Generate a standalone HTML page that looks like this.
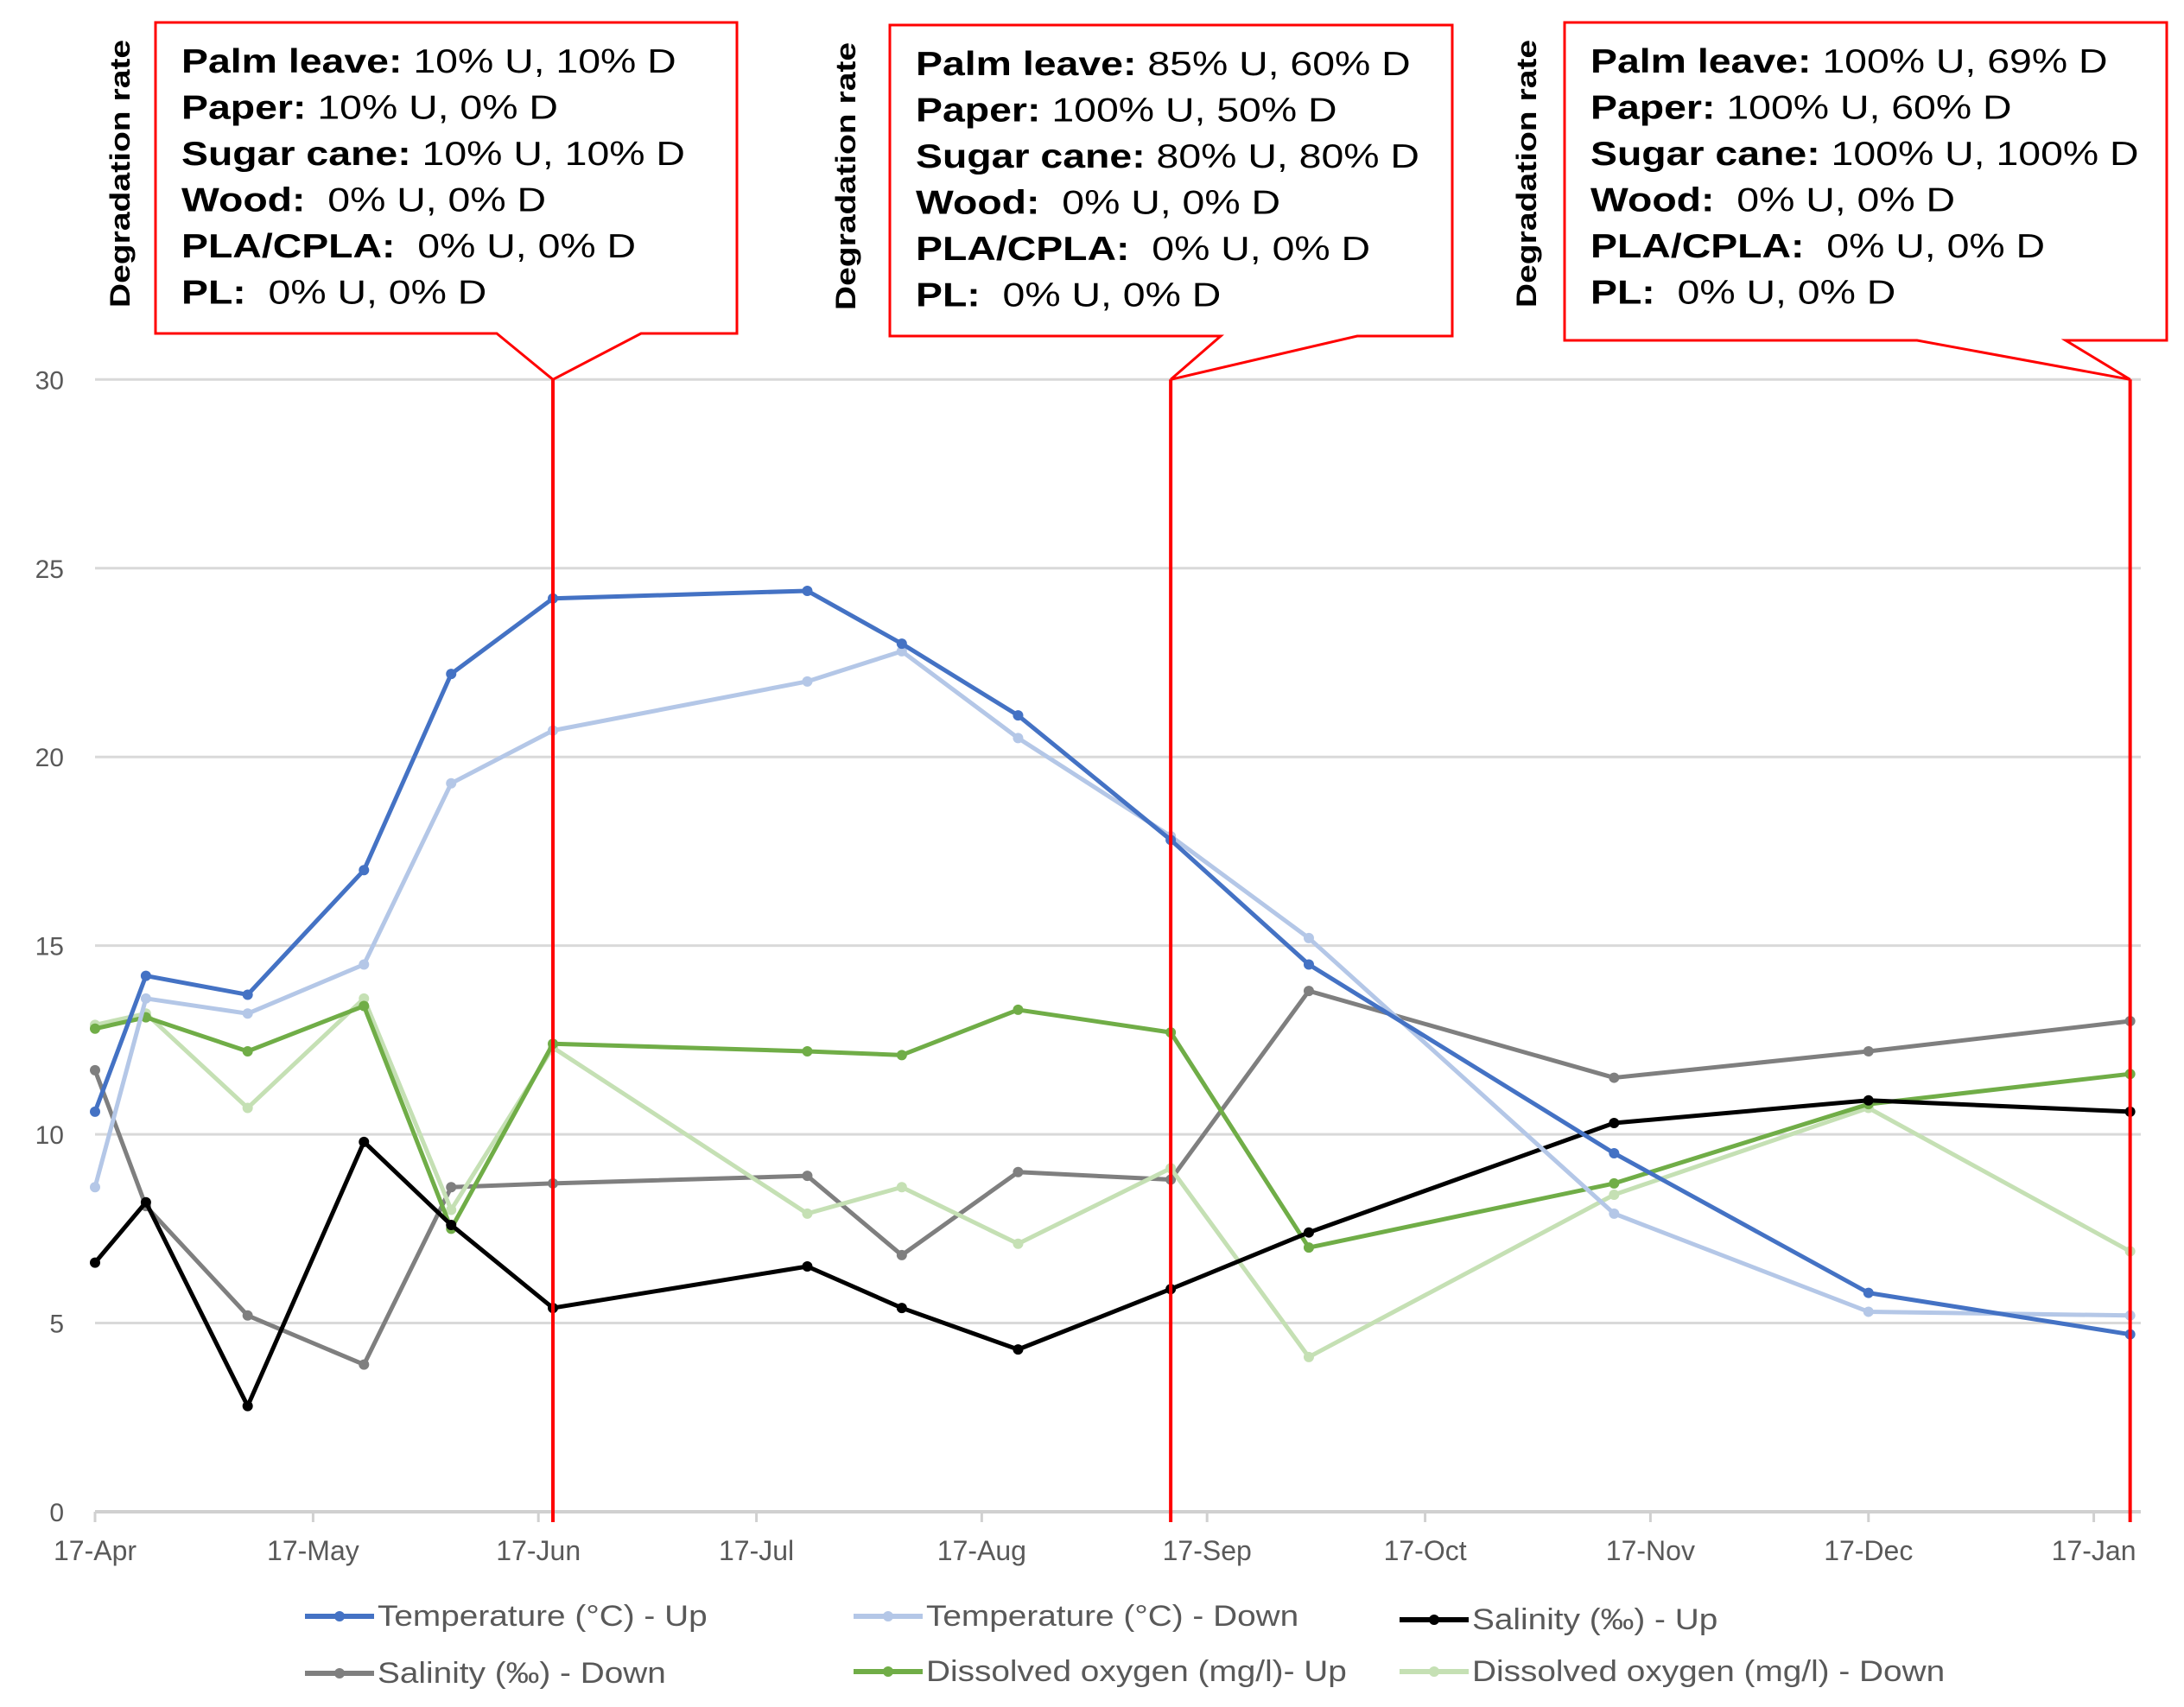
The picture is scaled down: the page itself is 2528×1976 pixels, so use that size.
<!DOCTYPE html>
<html><head><meta charset="utf-8"><style>
html,body{margin:0;padding:0;background:#fff}
svg{display:block}
text{font-family:"Liberation Sans",Arial,sans-serif}
</style></head><body>
<svg id="chart" width="2528" height="1976" viewBox="0 0 2528 1976" xmlns="http://www.w3.org/2000/svg">
<g id="grid"></g>
<g id="yticks"></g>
<g id="xticks"></g>
<g id="series"></g>
<g id="annot"></g>
<g id="legend"></g>
</svg>
<script>
const days = [0, 7, 21, 37, 49, 63, 98, 111, 127, 148, 167, 209, 244, 280];
const tempUp = [10.6, 14.2, 13.7, 17.0, 22.2, 24.2, 24.4, 23.0, 21.1, 17.8, 14.5, 9.5, 5.8, 4.7];
const tempDown = [8.6, 13.6, 13.2, 14.5, 19.3, 20.7, 22.0, 22.8, 20.5, 17.9, 15.2, 7.9, 5.3, 5.2];
const salUp = [6.6, 8.2, 2.8, 9.8, 7.6, 5.4, 6.5, 5.4, 4.3, 5.9, 7.4, 10.3, 10.9, 10.6];
const salDown = [11.7, 8.1, 5.2, 3.9, 8.6, 8.7, 8.9, 6.8, 9.0, 8.8, 13.8, 11.5, 12.2, 13.0];
const doUp = [12.8, 13.1, 12.2, 13.4, 7.5, 12.4, 12.2, 12.1, 13.3, 12.7, 7.0, 8.7, 10.8, 11.6];
const doDown = [12.9, 13.2, 10.7, 13.6, 8.0, 12.3, 7.9, 8.6, 7.1, 9.1, 4.1, 8.4, 10.7, 6.9];
const yTicks = [0, 5, 10, 15, 20, 25, 30];
const xTickLabels = ["17-Apr","17-May","17-Jun","17-Jul","17-Aug","17-Sep","17-Oct","17-Nov","17-Dec","17-Jan"];
const xTickDays = [0, 30, 61, 91, 122, 153, 183, 214, 244, 275];
const markerDays = [63, 148, 280];
const seriesNames = ["Temperature (°C) - Up","Temperature (°C) - Down","Salinity (‰) - Up","Salinity (‰) - Down","Dissolved oxygen (mg/l)- Up","Dissolved oxygen (mg/l) - Down"];

const NS = "http://www.w3.org/2000/svg";
const X0 = 110, XPD = 8.413, Y0 = 1750, YPU = 43.69, XEND = 2478;
function xs(d){ return X0 + d * XPD; }
function ys(v){ return Y0 - v * YPU; }
function mk(tag, attrs, parent){ const e = document.createElementNS(NS, tag); for (const k in attrs) e.setAttribute(k, attrs[k]); parent.appendChild(e); return e; }
function stretch(t, f){ const L = t.getComputedTextLength(); if (L > 0) { t.setAttribute('textLength', L * f); t.setAttribute('lengthAdjust', 'spacingAndGlyphs'); } }

const grid = document.getElementById('grid');
const yt = document.getElementById('yticks');
yTicks.forEach(v => {
  const l = mk('line', {x1: X0, x2: XEND, y1: ys(v), y2: ys(v), stroke: v === 0 ? '#d0d0d0' : '#d9d9d9', 'stroke-width': v === 0 ? 4 : 3}, grid);
  
  
  const t = mk('text', {x: 74, y: ys(v) + 11, 'text-anchor': 'end', 'font-size': 30, fill: '#595959'}, yt);
  t.textContent = v;
  
  
});
const xt = document.getElementById('xticks');
xTickDays.forEach((d, i) => {
  const tk = mk('line', {x1: xs(d), x2: xs(d), y1: Y0, y2: Y0 + 12, stroke: '#d0d0d0', 'stroke-width': 3}, xt);
  
  
  const t = mk('text', {x: xs(d), y: 1806, 'text-anchor': 'middle', 'font-size': 32, fill: '#595959'}, xt);
  t.textContent = xTickLabels[i];
  
  
});

const colors = ['#4472c4', '#b4c7e7', '#000000', '#7f7f7f', '#70ad47', '#c5e0b4'];
const allSeries = [tempUp, tempDown, salUp, salDown, doUp, doDown];
const order = [3, 5, 4, 2, 1, 0];
const sg = document.getElementById('series');
order.forEach(si => {
  const vals = allSeries[si];
  const g = mk('g', {}, sg);
  
  
  const pts = vals.map((v, i) => xs(days[i]) + ',' + ys(v)).join(' ');
  const pl = mk('polyline', {points: pts, fill: 'none', stroke: colors[si], 'stroke-width': 5, 'stroke-linejoin': 'round'}, g);
  
  
  vals.forEach((v, i) => {
    const c = mk('circle', {cx: xs(days[i]), cy: ys(v), r: 6, fill: colors[si]}, g);
    
    
  });
});

const boxes = [
  {x: 180, y: 26, w: 673, h: 360, tip: [575, 1, 742], lbl: 150, lines: [["Palm leave:"," 10% U, 10% D"],["Paper:"," 10% U, 0% D"],["Sugar cane:"," 10% U, 10% D"],["Wood:","  0% U, 0% D"],["PLA/CPLA:","  0% U, 0% D"],["PL:","  0% U, 0% D"]]},
  {x: 1030, y: 29, w: 651, h: 360, tip: [1413, 1, 1571], lbl: 990, lines: [["Palm leave:"," 85% U, 60% D"],["Paper:"," 100% U, 50% D"],["Sugar cane:"," 80% U, 80% D"],["Wood:","  0% U, 0% D"],["PLA/CPLA:","  0% U, 0% D"],["PL:","  0% U, 0% D"]]},
  {x: 1811, y: 26, w: 697, h: 368, tip: [2219, 1, 2391], lbl: 1778, lines: [["Palm leave:"," 100% U, 69% D"],["Paper:"," 100% U, 60% D"],["Sugar cane:"," 100% U, 100% D"],["Wood:","  0% U, 0% D"],["PLA/CPLA:","  0% U, 0% D"],["PL:","  0% U, 0% D"]]}
];
const an = document.getElementById('annot');
markerDays.forEach((d, i) => {
  const b = boxes[i];
  const g = mk('g', {}, an);
  
  
  const vx = xs(d);
  const vl = mk('line', {x1: vx, x2: vx, y1: ys(30), y2: Y0 + 12, stroke: '#ff0000', 'stroke-width': 4}, g);
  
  
  const by = b.y + b.h;
  const p = mk('path', {d: `M${b.x} ${b.y} H${b.x + b.w} V${by} H${b.tip[2]} L${vx} ${ys(30)} L${b.tip[0]} ${by} H${b.x} Z`, fill: '#fff', stroke: '#ff0000', 'stroke-width': 3}, g);
  
  
  const r = mk('text', {x: 0, y: 0, 'font-size': 32, 'font-weight': 'bold', fill: '#000', 'text-anchor': 'middle', transform: `translate(${b.lbl},${b.y + 175}) rotate(-90)`}, g);
  r.textContent = 'Degradation rate';
  
  
  stretch(r, 1.22);
  b.lines.forEach((ln, j) => {
    const t = mk('text', {x: b.x + 30, y: b.y + 58 + j * 53.5, 'font-size': 39, fill: '#000'}, g);
    
    
    const s1 = mk('tspan', {'font-weight': 'bold'}, t); s1.textContent = ln[0];
    const s2 = mk('tspan', {}, t); s2.textContent = ln[1].replace(/ /g, '\u00a0');
    stretch(t, 1.19);
  });
});

const lg = document.getElementById('legend');
const legPos = [[353, 1871], [988, 1871], [1620, 1875], [353, 1937], [988, 1935], [1620, 1935]];
seriesNames.forEach((n, i) => {
  const [lx, ly] = legPos[i];
  const g = mk('g', {}, lg);
  
  
  mk('line', {x1: lx, x2: lx + 80, y1: ly, y2: ly, stroke: colors[i], 'stroke-width': 6}, g);
  mk('circle', {cx: lx + 40, cy: ly, r: 6, fill: colors[i]}, g);
  const t = mk('text', {x: lx + 84, y: ly + 11, 'font-size': 34, fill: '#595959'}, g);
  t.textContent = n;
  stretch(t, 1.14);
});
</script>
</body></html>
